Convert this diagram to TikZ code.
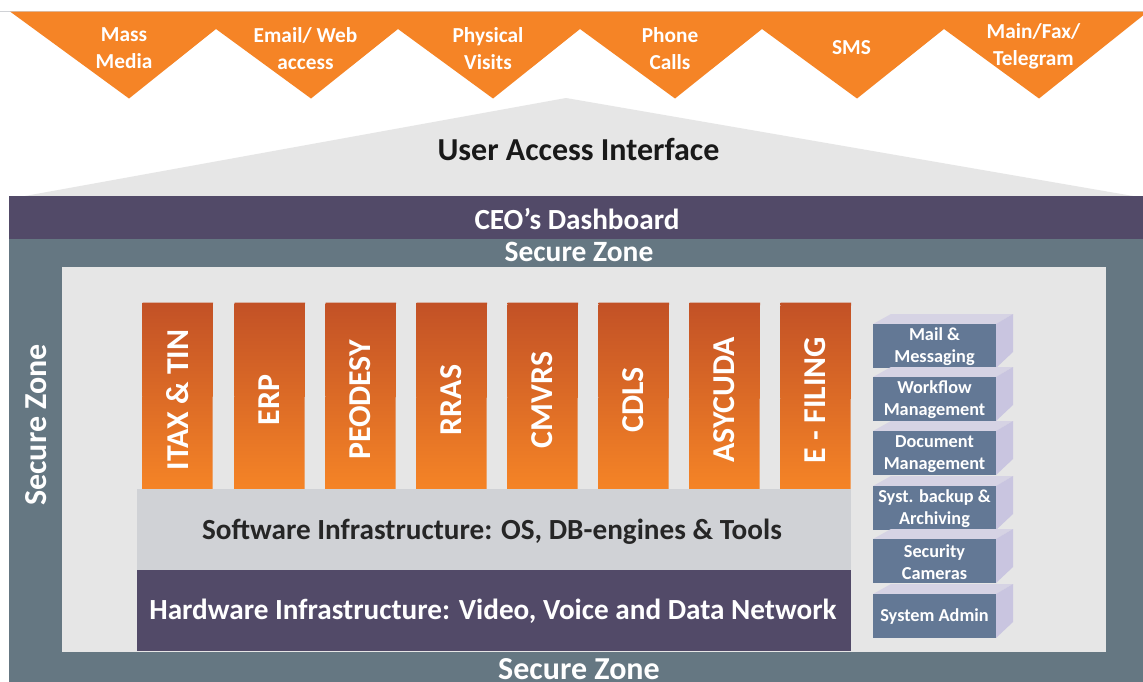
\documentclass[tikz,border=0pt]{standalone}
\usepackage{fontspec}
\setmainfont{Carlito}
\definecolor{orangeA}{HTML}{F58426}
\definecolor{rustA}{HTML}{C25126}
\definecolor{plumA}{HTML}{524A68}
\definecolor{slateA}{HTML}{657782}
\definecolor{paleA}{HTML}{E6E6E6}
\definecolor{softA}{HTML}{D0D2D6}
\definecolor{blockA}{HTML}{637895}
\definecolor{sideA}{HTML}{C9C5E0}
\definecolor{topA}{HTML}{D6D3E4}
\tikzset{
  x=0.75pt,y=-0.75pt,
  txt/.style={text=white,font=\bfseries\fontsize{#1}{#1}\selectfont,align=center,inner sep=0pt},
  toplabel/.style={text=white,font=\bfseries\fontsize{16}{20.2}\selectfont,align=center,inner sep=0pt},
  stacklabel/.style={text=white,font=\bfseries\fontsize{13.7}{16.5}\selectfont,align=center,inner sep=0pt},
}
\newcommand{\appbar}[3]{%
  \path[top color=rustA,bottom color=orangeA] (#1+0.5,302.5) -- (#1+71,302.5) -- (#1+70.5,489) -- (#1,489) -- cycle;
  \coordinate (bar#3) at (#1+35.5,400);
  \node[rotate=90,txt=23.9] (lab#3) at (bar#3) {#2};
}
\newcommand{\stackbox}[3]{%
  \fill[topA] (873,#1) -- (891,#1-10) -- (1013,#1-10) -- (996,#1) -- cycle;
  \fill[sideA] (996,#1) -- (1013,#1-10) -- (1013,#1+28) -- (996,#1+44) -- cycle;
  \fill[blockA] (873,#1) rectangle (996,#1+44);
  \node[stacklabel] (st#3) at (934.5,#1+23) {#2};
}
\begin{document}
\begin{tikzpicture}
\useasboundingbox (0,0) rectangle (1143,682);
\fill[white] (0,0) rectangle (1143,682);
\fill[softA] (0,10.5) rectangle (1143,11.5);
\fill[orangeA] (10,11.5) -- (129,98.5) -- (216,29) -- (311,98.5) -- (398,29) -- (493,98.5) -- (580,29) -- (675,98.5) -- (762,29) -- (857,98.5) -- (944,29) -- (1039,98.5) -- (1143,15.5) -- (1143,11.5) -- cycle;
\node[toplabel] (t1) at (124,48) {Mass\\Media};
\node[toplabel] (t2) at (305.5,48.5) {Email/ Web\\access};
\node[toplabel] (t3) at (488,48.5) {Physical\\Visits};
\node[toplabel] (t4) at (670,48.5) {Phone\\Calls};
\node[toplabel] (t5) at (851.5,48) {SMS};
\node[toplabel] (t6) at (1033.5,46.5) {Main/Fax/\\Telegram};
\fill[paleA] (25,196) -- (566,98) -- (1133,196) -- cycle;
\node[inner sep=0pt,font=\bfseries\fontsize{24}{24}\selectfont,text=black!90] (ua) at (578.5,149.5) {User Access Interface};
\fill[slateA] (9,239) rectangle (1143,682);
\fill[plumA] (9,196) rectangle (1143,239);
\node[txt=21.9] (ceo) at (577,218.5) {CEO’s Dashboard};
\node[txt=22.1] (sz1) at (579,252) {Secure Zone};
\node[txt=24] (sz2) at (579,669) {Secure Zone};
\node[txt=24,rotate=90] (sz3) at (36,425) {Secure Zone};
\fill[paleA] (62,267) rectangle (1106,652);
\appbar{142}{ITAX \& TIN}{a}
\appbar{234}{ERP}{b}
\appbar{325}{PEODESY}{c}
\appbar{416}{RRAS}{d}
\appbar{507}{CMVRS}{e}
\appbar{598}{CDLS}{f}
\appbar{689}{ASYCUDA}{g}
\appbar{780}{E - FILING}{h}
\fill[softA] (137,489) rectangle (851,570);
\fill[plumA] (137,570) rectangle (851,651);
\node[inner sep=0pt,font=\bfseries\fontsize{21.9}{21.9}\selectfont,text=black!85] (sw) at (492,531.5) {Software Infrastructure: OS, DB-engines \& Tools};
\node[txt=21.9] (hw) at (493,611) {Hardware Infrastructure: Video, Voice and Data Network};
\stackbox{324}{Mail \&\\Messaging}{a}
\stackbox{377}{Workflow\\Management}{b}
\stackbox{431}{Document\\Management}{c}
\stackbox{486}{Syst. backup \&\\Archiving}{d}
\stackbox{539}{Security\\Cameras}{e}
\stackbox{594}{System Admin}{f}
\end{tikzpicture}
\end{document}
